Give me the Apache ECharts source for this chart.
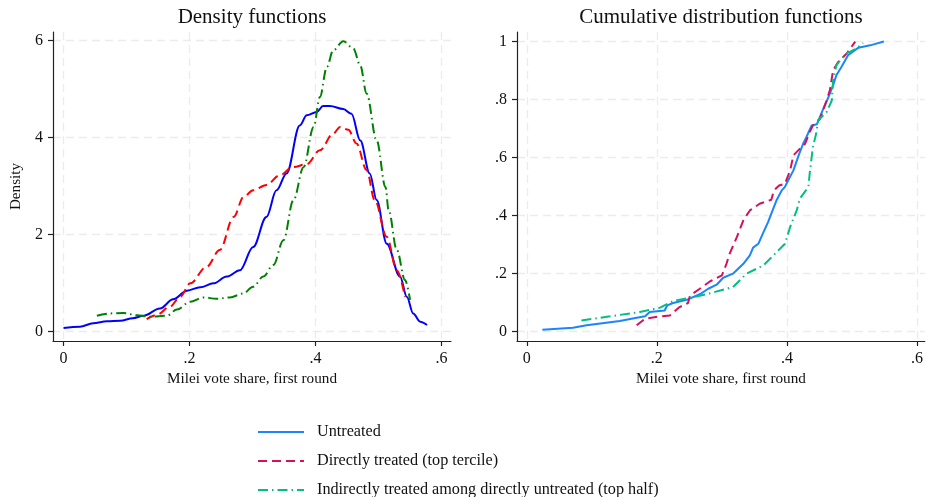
<!DOCTYPE html>
<html>
<head>
<meta charset="utf-8">
<title>Density and CDF</title>
<script src="https://cdn.jsdelivr.net/npm/echarts@6/dist/echarts.min.js"></script>
<style>
  html, body { margin: 0; padding: 0; background: #fff; }
  #chart { width: 926px; height: 497px; }
</style>
</head>
<body>
<div id="chart"></div>
<script>
// series names
const seriesNames = ['Untreated', 'Directly treated (top tercile)', 'Indirectly treated among directly untreated (top half)']

// tick labels
const xTicks = [0, 0.2, 0.4, 0.6]
const densTicks = [0, 2, 4, 6]
const cdfTicks = [0, 0.2, 0.4, 0.6, 0.8, 1]

// density functions [vote share, density]
const densUntreated = [
  [0, 0.07], [0.026, 0.095], [0.047, 0.165], [0.069, 0.21], [0.09, 0.22], [0.11, 0.27],
  [0.127, 0.32], [0.153, 0.47], [0.174, 0.66], [0.196, 0.84], [0.217, 0.91], [0.238, 0.99],
  [0.259, 1.13], [0.28, 1.26], [0.301, 1.74], [0.322, 2.36], [0.338, 2.91], [0.354, 3.26],
  [0.375, 4.25], [0.386, 4.46], [0.402, 4.53], [0.412, 4.65], [0.423, 4.65], [0.444, 4.59],
  [0.457, 4.49], [0.471, 3.94], [0.486, 3.26], [0.497, 2.71], [0.513, 1.81], [0.534, 1.13],
  [0.545, 0.71], [0.555, 0.37], [0.566, 0.2], [0.577, 0.13]
]
const densDirect = [
  [0.132, 0.25], [0.148, 0.34], [0.169, 0.51], [0.185, 0.71], [0.201, 0.99], [0.227, 1.33],
  [0.248, 1.68], [0.27, 2.36], [0.286, 2.78], [0.301, 2.91], [0.322, 3.02], [0.343, 3.22],
  [0.364, 3.39], [0.386, 3.45], [0.407, 3.74], [0.428, 4.08], [0.439, 4.22], [0.452, 4.16],
  [0.465, 3.88], [0.481, 3.33], [0.494, 2.71], [0.513, 1.95], [0.529, 1.26], [0.542, 0.71]
]
const densIndirect = [
  [0.053, 0.32], [0.074, 0.37], [0.095, 0.38], [0.117, 0.33], [0.137, 0.30], [0.164, 0.32],
  [0.18, 0.45], [0.201, 0.61], [0.222, 0.70], [0.243, 0.67], [0.264, 0.70], [0.285, 0.78],
  [0.301, 0.92], [0.317, 1.13], [0.333, 1.37], [0.349, 1.88], [0.365, 2.71], [0.381, 3.39],
  [0.397, 4.22], [0.407, 4.84], [0.418, 5.46], [0.428, 5.80], [0.444, 5.99], [0.46, 5.84],
  [0.471, 5.49], [0.481, 4.91], [0.497, 3.94], [0.511, 2.98], [0.516, 2.5], [0.529, 1.68],
  [0.542, 1.06], [0.55, 0.65]
]

// cumulative distribution functions [vote share, share of units]
const cdfUntreated = [
  [0.024, 0.007], [0.071, 0.014], [0.092, 0.022], [0.143, 0.037], [0.169, 0.048], [0.182, 0.053],
  [0.189, 0.068], [0.212, 0.073], [0.216, 0.091], [0.225, 0.099], [0.246, 0.11], [0.266, 0.129],
  [0.279, 0.148], [0.292, 0.162], [0.302, 0.186], [0.317, 0.2], [0.333, 0.234], [0.343, 0.263],
  [0.348, 0.29], [0.356, 0.303], [0.364, 0.343], [0.371, 0.378], [0.376, 0.407], [0.384, 0.453],
  [0.392, 0.487], [0.397, 0.499], [0.402, 0.522], [0.41, 0.556], [0.419, 0.614], [0.425, 0.648],
  [0.43, 0.671], [0.438, 0.711], [0.446, 0.715], [0.456, 0.769], [0.464, 0.809], [0.471, 0.849],
  [0.476, 0.884], [0.484, 0.913], [0.494, 0.953], [0.51, 0.979], [0.528, 0.987], [0.549, 1.0]
]
const cdfDirect = [
  [0.169, 0.022], [0.182, 0.045], [0.205, 0.053], [0.22, 0.056], [0.235, 0.085], [0.248, 0.099],
  [0.251, 0.125], [0.266, 0.148], [0.282, 0.174], [0.3, 0.194], [0.307, 0.234], [0.312, 0.269],
  [0.323, 0.326], [0.333, 0.384], [0.343, 0.418], [0.358, 0.441], [0.376, 0.455], [0.38, 0.487],
  [0.388, 0.504], [0.397, 0.51], [0.405, 0.556], [0.41, 0.608], [0.42, 0.631], [0.428, 0.648],
  [0.435, 0.688], [0.44, 0.711], [0.451, 0.734], [0.461, 0.797], [0.466, 0.832], [0.471, 0.901],
  [0.479, 0.93], [0.492, 0.959], [0.505, 1.0]
]
const cdfIndirect = [
  [0.084, 0.039], [0.128, 0.053], [0.174, 0.068], [0.205, 0.083], [0.225, 0.106], [0.256, 0.119],
  [0.276, 0.129], [0.317, 0.154], [0.338, 0.2], [0.364, 0.229], [0.397, 0.303], [0.405, 0.361],
  [0.415, 0.418], [0.42, 0.459], [0.433, 0.499], [0.435, 0.545], [0.44, 0.637], [0.445, 0.683],
  [0.448, 0.729], [0.461, 0.757], [0.469, 0.797], [0.471, 0.866], [0.476, 0.918], [0.482, 0.936],
  [0.492, 0.959], [0.507, 0.976], [0.517, 0.995]
]

const FONT = "'Liberation Serif', 'Times New Roman', serif"

// Stata-like tick label: drop the leading zero
function stataNum (v) {
  if (v === 0) return '0'
  return String(+v.toFixed(2)).replace(/^0\./, '.')
}

function makeAxis (opts) {
  return Object.assign({
    type: 'value',
    axisLine: { show: true, onZero: false, lineStyle: { color: '#222', width: 1.2 } },
    axisTick: { show: true, length: 5, lineStyle: { color: '#222', width: 1.2 } },
    axisLabel: { color: '#111', fontFamily: FONT, fontSize: 16, margin: 10, formatter: stataNum },
    splitLine: { show: true, lineStyle: { color: '#ececec', width: 1.3, type: [8, 5] } },
    nameTextStyle: { color: '#111', fontFamily: FONT, fontSize: 15.2 }
  }, opts)
}

function withTicks (axis, ticks) {
  axis.axisTick.customValues = ticks
  axis.axisLabel.customValues = ticks
  axis.splitLine.customValues = ticks
  return axis
}

const lineBlueL = { color: '#0000ff', width: 2, type: 'solid' }
const lineRedL = { color: '#ff0000', width: 2, type: [9, 5] }
const lineGreenL = { color: '#008000', width: 2, type: [10, 4, 1.5, 4] }
const lineBlueR = { color: '#1a85ff', width: 2, type: 'solid' }
const lineRedR = { color: '#d41159', width: 2, type: [9, 5] }
const lineGreenR = { color: '#00bf7f', width: 2, type: [10, 4, 1.5, 4] }

function lineSeries (name, data, style, idx, smooth) {
  return {
    name: name,
    type: 'line',
    xAxisIndex: idx,
    yAxisIndex: idx,
    data: data,
    symbol: 'none',
    smooth: smooth ? 0.35 : false,
    smoothMonotone: 'x',
    lineStyle: style,
    itemStyle: { color: style.color },
    animation: false,
    z: 3
  }
}

const chart = echarts.init(document.getElementById('chart'))

chart.setOption({
  backgroundColor: '#fff',
  animation: false,
  graphic: [
    { type: 'text', x: 252, y: 7, style: { text: 'Density functions', font: '21px ' + FONT, fill: '#111', align: 'center', verticalAlign: 'top' } },
    { type: 'text', x: 721, y: 7, style: { text: 'Cumulative distribution functions', font: '21px ' + FONT, fill: '#111', align: 'center', verticalAlign: 'top' } }
  ],
  legend: {
    orient: 'vertical',
    left: 257,
    top: 424,
    height: 100,
    padding: 0,
    itemWidth: 46,
    itemHeight: 14,
    itemGap: 13,
    data: seriesNames,
    itemStyle: { opacity: 0 },
    textStyle: { color: '#111', fontFamily: FONT, fontSize: 16.2, padding: [0, 0, 0, 8] }
  },
  grid: [
    { left: 53, top: 32, width: 398, height: 309 },
    { left: 517, top: 32, width: 408, height: 309 }
  ],
  xAxis: [
    withTicks(makeAxis({
      gridIndex: 0, min: -0.0167, max: 0.615,
      name: 'Milei vote share, first round', nameLocation: 'middle', nameGap: 29
    }), xTicks),
    withTicks(makeAxis({
      gridIndex: 1, min: -0.015, max: 0.612,
      name: 'Milei vote share, first round', nameLocation: 'middle', nameGap: 29
    }), xTicks)
  ],
  yAxis: [
    withTicks(makeAxis({
      gridIndex: 0, min: -0.2, max: 6.18,
      name: 'Density', nameLocation: 'middle', nameGap: 29
    }), densTicks),
    withTicks(makeAxis({
      gridIndex: 1, min: -0.032, max: 1.033
    }), cdfTicks)
  ],
  series: [
    // right panel first so the legend takes its colours
    lineSeries(seriesNames[0], cdfUntreated, lineBlueR, 1, false),
    lineSeries(seriesNames[1], cdfDirect, lineRedR, 1, false),
    lineSeries(seriesNames[2], cdfIndirect, lineGreenR, 1, false),
    lineSeries(seriesNames[0], densUntreated, lineBlueL, 0, true),
    lineSeries(seriesNames[1], densDirect, lineRedL, 0, true),
    lineSeries(seriesNames[2], densIndirect, lineGreenL, 0, true)
  ]
})
</script>
</body>
</html>
